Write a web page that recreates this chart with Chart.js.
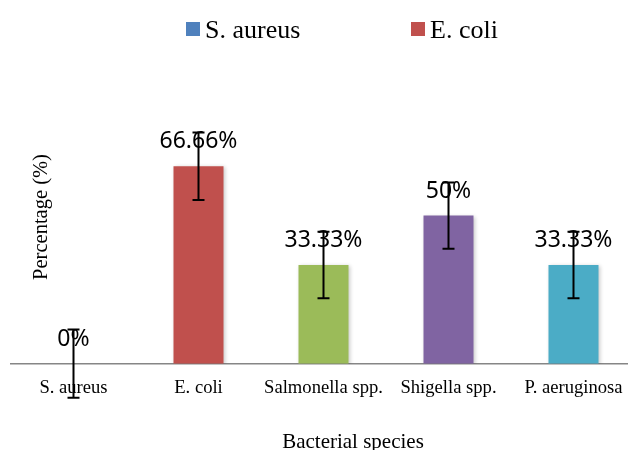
<!DOCTYPE html>
<html>
<head>
<meta charset="utf-8">
<script src="https://cdn.jsdelivr.net/npm/chart.js@4.4.0/dist/chart.umd.min.js"></script>
<style>
    html, body { margin: 0; padding: 0; background: #fff; overflow: hidden; }
</style>
</head>
<body>
<canvas id="myChart" width="640" height="450"></canvas>
<script>
// Chart data
var categories = ['S. aureus', 'E. coli', 'Salmonella spp.', 'Shigella spp.', 'P. aeruginosa'];
var percentages = [0, 66.66, 33.33, 50, 33.33];
var errorBars = [11.5, 11.4, 11.2, 11.2, 11.2];
var legendNames = ['S. aureus', 'E. coli'];
var xTitle = 'Bacterial species';
var yTitle = 'Percentage (%)';

var barColors = ['#4F81BD', '#C0504D', '#9BBB59', '#8064A2', '#4BACC6'];
var serif = '"Liberation Serif", "Times New Roman", serif';

// Labels, error bars, titles and the legend
var extrasPlugin = {
    id: 'extras',
    beforeDatasetDraw: function (chart) {
        var ctx = chart.ctx;
        ctx.save();
        ctx.shadowColor = 'rgba(0, 0, 0, 0.22)';
        ctx.shadowBlur = 4;
        ctx.shadowOffsetX = 1;
        ctx.shadowOffsetY = 1;
    },
    afterDatasetDraw: function (chart) {
        chart.ctx.restore();
    },
    afterDatasetsDraw: function (chart) {
        var ctx = chart.ctx;
        var meta = chart.getDatasetMeta(0);
        var yScale = chart.scales.y;

        ctx.save();
        ctx.fillStyle = '#000';
        ctx.font = '23px "Noto Sans", "Open Sans", sans-serif';
        ctx.textAlign = 'center';
        ctx.textBaseline = 'alphabetic';
        meta.data.forEach(function (bar, i) {
            ctx.fillText(percentages[i] + '%', bar.x, bar.y - 18);
        });

        ctx.strokeStyle = '#000';
        ctx.lineWidth = 2;
        meta.data.forEach(function (bar, i) {
            var top = yScale.getPixelForValue(percentages[i] + errorBars[i]);
            var bottom = yScale.getPixelForValue(percentages[i] - errorBars[i]);
            ctx.beginPath();
            ctx.moveTo(bar.x, top);
            ctx.lineTo(bar.x, bottom);
            ctx.moveTo(bar.x - 6, top);
            ctx.lineTo(bar.x + 6, top);
            ctx.moveTo(bar.x - 6, bottom);
            ctx.lineTo(bar.x + 6, bottom);
            ctx.stroke();
        });
        ctx.restore();
    },
    afterDraw: function (chart) {
        var ctx = chart.ctx;
        ctx.save();
        ctx.fillStyle = '#000';

        // x axis title
        ctx.font = '21px ' + serif;
        ctx.textAlign = 'center';
        ctx.textBaseline = 'alphabetic';
        ctx.fillText(xTitle, 353, 448);

        // y axis title
        ctx.save();
        ctx.translate(47, 217);
        ctx.rotate(-Math.PI / 2);
        ctx.font = '20.5px ' + serif;
        ctx.fillText(yTitle, 0, 0);
        ctx.restore();

        // legend
        var legendX = [186, 411];
        ctx.font = '26px ' + serif;
        ctx.textAlign = 'left';
        legendNames.forEach(function (name, i) {
            ctx.fillStyle = barColors[categories.indexOf(name)];
            ctx.fillRect(legendX[i], 22, 14, 14);
            ctx.fillStyle = '#000';
            ctx.fillText(name, legendX[i] + 19, 38);
        });
        ctx.restore();
    }
};

var ctx = document.getElementById('myChart').getContext('2d');

var myChart = new Chart(ctx, {
    type: 'bar',
    data: {
        labels: categories,
        datasets: [{
            label: 'Percentage',
            data: percentages,
            backgroundColor: barColors,
            borderWidth: 0,
            barPercentage: 0.4,
            categoryPercentage: 1
        }]
    },
    options: {
        responsive: false,
        animation: false,
        devicePixelRatio: 1,
        layout: {
            padding: { left: 11, right: 4, top: 67.5, bottom: 38 }
        },
        plugins: {
            legend: { display: false },
            tooltip: { enabled: false }
        },
        scales: {
            x: {
                grid: { display: false, drawTicks: false },
                border: { display: true, color: '#868686', width: 1.5 },
                ticks: {
                    color: '#000',
                    padding: 13,
                    font: { family: serif, size: 18.6 }
                }
            },
            y: {
                display: false,
                min: 0,
                max: 100
            }
        }
    },
    plugins: [extrasPlugin]
});
</script>
</body>
</html>
